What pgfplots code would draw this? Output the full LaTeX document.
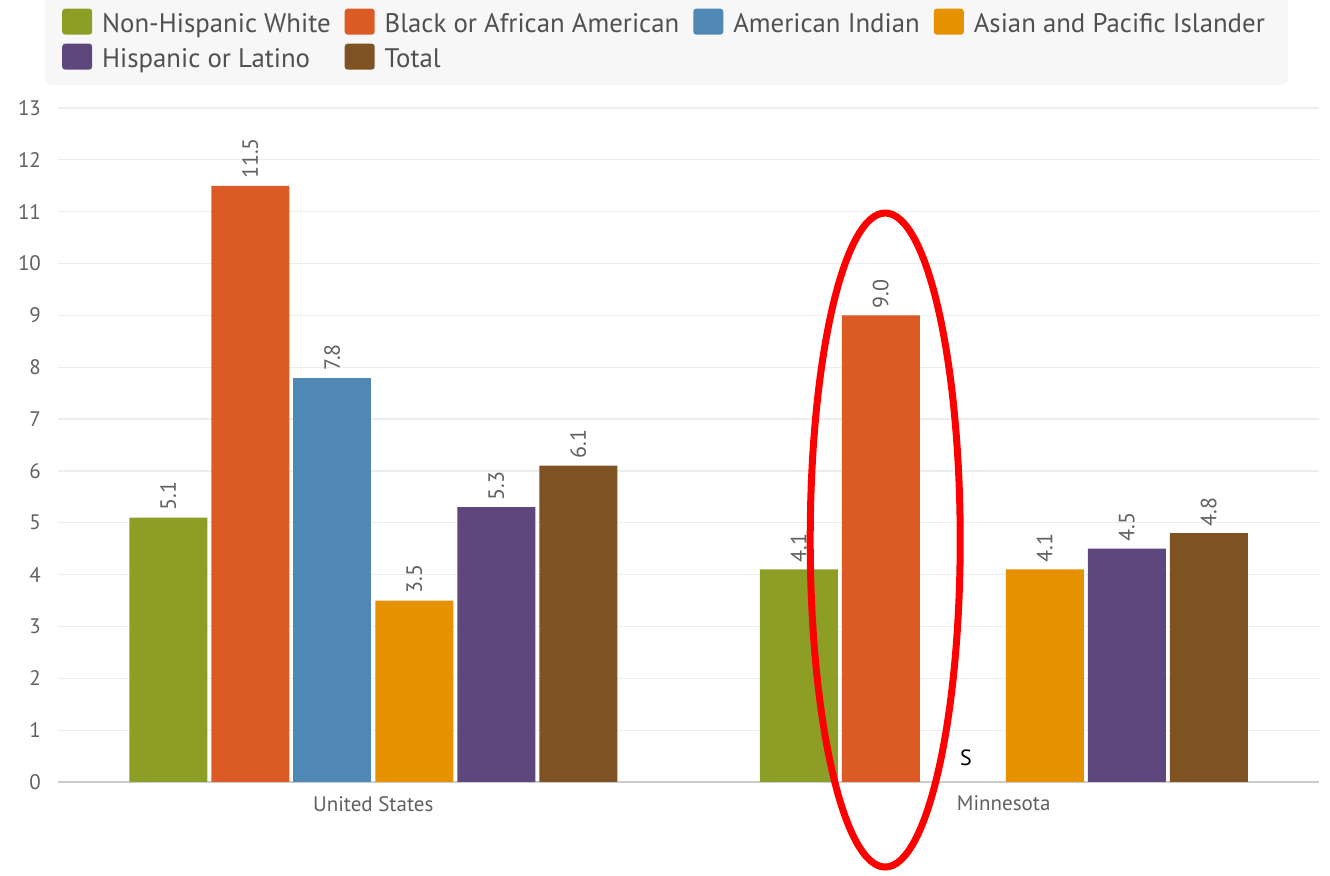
\documentclass[border=0pt]{standalone}
\usepackage{pgfplots}
\pgfplotsset{compat=1.18}
\usepackage{fontspec}
\setmainfont{PT Sans}
\definecolor{cgreen}{HTML}{8D9E27}
\definecolor{corange}{HTML}{DC5A24}
\definecolor{cblue}{HTML}{4F87B5}
\definecolor{cyellow}{HTML}{E69100}
\definecolor{cpurple}{HTML}{5E477D}
\definecolor{cbrown}{HTML}{7E5222}
\definecolor{legtext}{HTML}{505050}
\definecolor{ticktext}{HTML}{606060}
\definecolor{legendbg}{HTML}{F7F7F7}
\definecolor{gridgray}{HTML}{EDEDED}
\definecolor{axisgray}{HTML}{CCCCCC}
\pgfplotsset{sqlegend/.style={legend image code/.code={\fill[##1,draw=none,rounded corners=1.5pt] (0pt,-5pt) rectangle (15pt,8pt);}}}
\begin{document}
\begin{tikzpicture}[x=1pt,y=1pt]
\useasboundingbox (0,0) rectangle (665,438);
\fill[legendbg, rounded corners=3pt] (22.5,395.5) rectangle (644,441);
\begin{axis}[
  at={(29pt,47pt)}, anchor=south west,
  scale only axis, width=630.5pt, height=337pt,
  xmin=-0.5, xmax=1.5, ymin=0, ymax=13,
  ybar=2pt, bar width=39pt,
  xtick={0,1}, xticklabels={United States,Minnesota},
  ytick={0,1,...,13},
  ymajorgrids, grid style={draw=gridgray, line width=0.6pt},
  major tick length=0pt,
  axis x line*=bottom, axis y line*=left,
  y axis line style={draw=none},
  x axis line style={draw=axisgray, line width=0.8pt},
  tick label style={font=\fontsize{10.5}{12}\selectfont, text=ticktext},
  yticklabel style={xshift=-5pt},
  xticklabel style={yshift=-3.5pt},
  /pgf/number format/assume math mode=true,
  nodes near coords={\pgfmathprintnumber[fixed,fixed zerofill,precision=1,assume math mode=true]{\pgfplotspointmeta}},
  every node near coord/.append style={rotate=90, anchor=west, font=\fontsize{11}{12}\selectfont, text=ticktext},
  every axis plot post/.append style={sqlegend},
  legend columns=4,
  legend cell align=left,
  legend style={at={(axis description cs:0.003,1.148)}, anchor=north west,
    draw=none, fill=none, inner sep=0pt,
    font=\fontsize{13.4}{15}\selectfont, text=legtext,
    /tikz/every odd column/.append style={column sep=3pt},
    /tikz/every even column/.append style={column sep=5pt},
    row sep=2pt},
  clip=false,
]
\addplot[fill=cgreen, draw=none] coordinates {(0,5.1) (1,4.1)};
\addplot[fill=corange, draw=none] coordinates {(0,11.5) (1,9.0)};
\addplot[fill=cblue, draw=none] coordinates {(0,7.8)};
\addplot[fill=cyellow, draw=none] coordinates {(0,3.5) (1,4.1)};
\addplot[fill=cpurple, draw=none] coordinates {(0,5.3) (1,4.5)};
\addplot[fill=cbrown, draw=none] coordinates {(0,6.1) (1,4.8)};
\legend{Non-Hispanic White, Black or African American, American Indian, Asian and Pacific Islander, Hispanic or Latino, Total}
\node[font=\fontsize{11}{12}\selectfont, text=black] at (axis cs:0.94,0.46) {S};
\draw[red, line width=3.5pt] (axis cs:0.812,4.667) ellipse [x radius=37.5pt, y radius=163.5pt];
\end{axis}
\end{tikzpicture}
\end{document}
